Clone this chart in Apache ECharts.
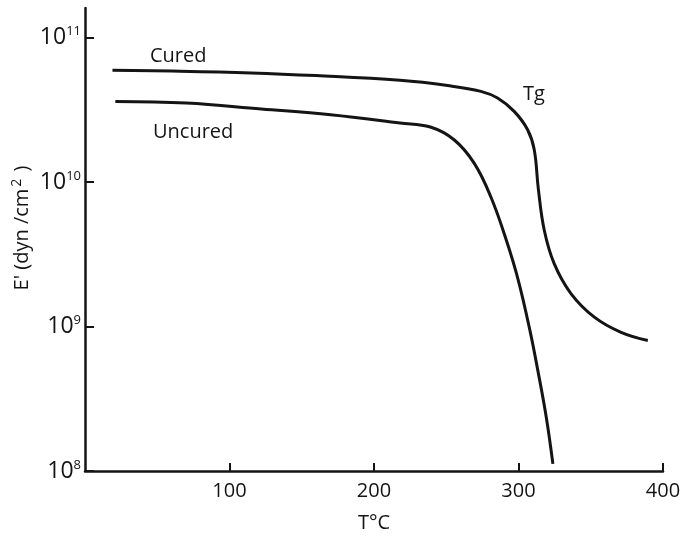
<!DOCTYPE html>
<html>
<head>
<meta charset="utf-8">
<script src="https://cdn.jsdelivr.net/npm/echarts@6/dist/echarts.min.js"></script>
<style>
html,body{margin:0;padding:0;background:#fff;}
#chart{width:684px;height:541px;}
</style>
</head>
<body>
<div id="chart"></div>
<script>
// Temperature (°C) and storage modulus E' (dyn/cm^2)
const curedT = [19, 60, 115, 160, 218, 251, 274, 285.5, 297, 306.3, 310.9, 313.7, 317.8, 324.7, 336.3, 352.5, 371, 389.5];
const curedE = [5.93e10, 5.86e10, 5.69e10, 5.45e10, 5.05e10, 4.65e10, 4.24e10, 3.81e10, 3.08e10, 2.30e10, 1.67e10, 9.0e9, 4.65e9, 2.72e9, 1.69e9, 1.16e9, 9.1e8, 8.0e8];
const uncuredT = [21, 70, 122, 170, 218, 239, 255.4, 269.3, 280.9, 291.6, 299.9, 307.9, 313.4, 319.3, 323.8];
const uncuredE = [3.61e10, 3.52e10, 3.20e10, 2.92e10, 2.56e10, 2.40e10, 1.96e10, 1.35e10, 7.87e9, 3.95e9, 2.08e9, 9.4e8, 4.95e8, 2.33e8, 1.12e8];
const xTicks = [100, 200, 300, 400];
const yTicks = [1e8, 1e9, 1e10, 1e11];
const labels = [
  {text: 'Cured', x: 150, y: 58},
  {text: 'Uncured', x: 153, y: 134},
  {text: 'Tg', x: 523, y: 96}
];

const ink = '#141414';
const font = 'Open Sans';
const pair = (xs, ys) => xs.map((x, i) => [x, ys[i]]);

const chart = echarts.init(document.getElementById('chart'));
chart.setOption({
  animation: false,
  backgroundColor: '#fff',
  grid: {left: 85, right: 21, top: 8, bottom: 70, containLabel: false},
  xAxis: {
    type: 'value', min: 0, max: 400, interval: 100,
    name: 'T°C', nameLocation: 'middle', nameGap: 42,
    nameTextStyle: {color: ink, fontFamily: font, fontSize: 20},
    axisLine: {lineStyle: {color: ink, width: 2.5}},
    axisTick: {inside: true, length: 8, lineStyle: {color: ink, width: 2}, customValues: xTicks},
    axisLabel: {color: ink, fontFamily: font, fontSize: 20, margin: 10, customValues: xTicks,
      formatter: v => xTicks.includes(v) ? String(v) : ''},
    splitLine: {show: false}
  },
  yAxis: {
    type: 'log', logBase: 10, min: 1e8, max: 1.6e11,
    axisLine: {lineStyle: {color: ink, width: 2.5}},
    axisTick: {inside: true, length: 9, lineStyle: {color: ink, width: 2}, customValues: yTicks},
    axisLabel: {
      margin: 4, customValues: yTicks,
      formatter: v => {
        const e = Math.round(Math.log10(v));
        if (Math.abs(Math.log10(v) - e) > 1e-6) return '';
        return '{b|10}{s|' + e + '}';
      },
      rich: {
        b: {fontSize: 23, fontFamily: font, color: ink, letterSpacing: -1.5},
        s: {fontSize: 13, fontFamily: font, color: ink, verticalAlign: 'top', padding: [0, 0, 12, 0]}
      }
    },
    splitLine: {show: false}
  },
  series: [
    {type: 'line', name: 'Cured', data: pair(curedT, curedE), smooth: 0.4, showSymbol: false,
      lineStyle: {color: ink, width: 3}},
    {type: 'line', name: 'Uncured', data: pair(uncuredT, uncuredE), smooth: 0.4, showSymbol: false,
      lineStyle: {color: ink, width: 3}}
  ],
  graphic: labels.map(l => ({
    type: 'text', left: l.x, top: l.y - 12,
    style: {text: l.text, fill: ink, font: '20px "Open Sans"'}
  })).concat([{
    type: 'text', x: 22, y: 228, rotation: Math.PI / 2,
    style: {
      text: "{a|E' (dyn /cm}{s|2}{a| )}", align: 'center', verticalAlign: 'middle',
      rich: {
        a: {fontSize: 20, fontFamily: font, fill: ink},
        s: {fontSize: 14, fontFamily: font, fill: ink, verticalAlign: 'top', padding: [0, 2, 9, 2]}
      }
    }
  }])
});
</script>
</body>
</html>
